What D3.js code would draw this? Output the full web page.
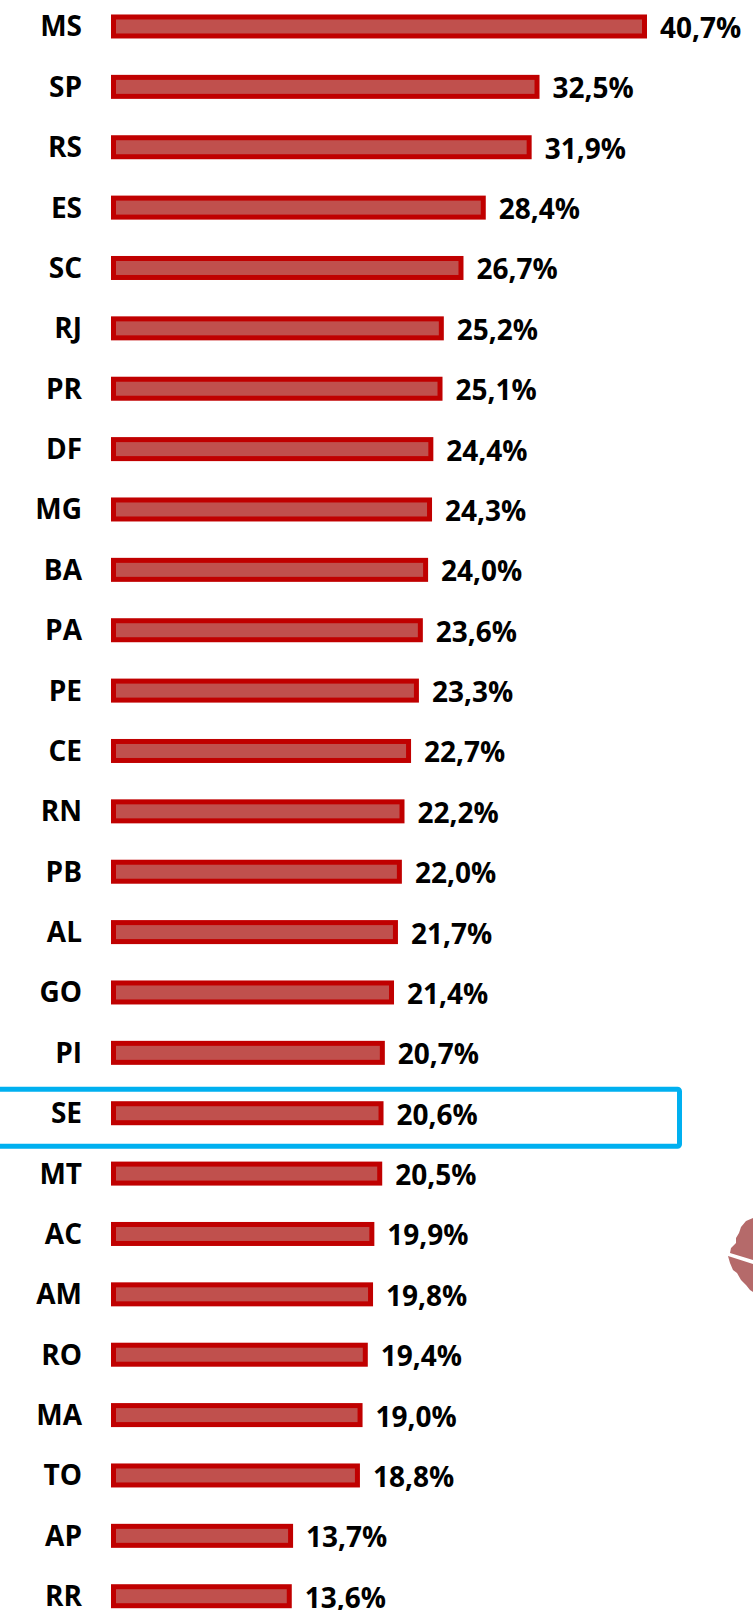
<!DOCTYPE html>
<html><head><meta charset="utf-8">
<script src="https://cdn.jsdelivr.net/npm/d3@7"></script>
<style>html,body{margin:0;padding:0;background:#fff;overflow:hidden}svg{display:block}text{font-family:"Open Sans",Lato,sans-serif;font-weight:700;fill:#000}</style>
</head><body><div id="c"></div>
<script>
const categories=["MS","SP","RS","ES","SC","RJ","PR","DF","MG","BA","PA","PE","CE","RN","PB","AL","GO","PI","SE","MT","AC","AM","RO","MA","TO","AP","RR"];
const values=[40.7,32.5,31.9,28.4,26.7,25.2,25.1,24.4,24.3,24.0,23.6,23.3,22.7,22.2,22.0,21.7,21.4,20.7,20.6,20.5,19.9,19.8,19.4,19.0,18.8,13.7,13.6];
const highlighted="SE";
const W=753,H=1610;
const svg=d3.select("#c").append("svg").attr("width",W).attr("height",H);
const x=d3.scaleLinear().domain([0,40.7]).range([111,644.5]);
const y=d3.scaleBand().domain(categories).range([-3.7,1626.4]).paddingInner(0.6).paddingOuter(0.3);
const fmt=v=>d3.format(".1f")(v).replace(".",",")+"%";
const bh=19;
const cy=d=>y(d)+y.bandwidth()/2;
const rows=categories.map((c,i)=>({c,v:values[i]}));
svg.selectAll("rect.bar").data(rows).join("rect").attr("class","bar")
 .attr("x",x(0)+2.5).attr("y",d=>cy(d.c)-bh/2)
 .attr("width",d=>x(d.v)-x(0)-2.5).attr("height",bh)
 .attr("fill","#C0504D").attr("stroke","#C00000").attr("stroke-width",5);
svg.selectAll("text.cat").data(rows).join("text").attr("class","cat")
 .attr("x",82).attr("y",d=>cy(d.c)-1).attr("text-anchor","end").attr("dominant-baseline","central")
 .attr("font-size",28).text(d=>d.c);
svg.selectAll("text.val").data(rows).join("text").attr("class","val")
 .attr("x",d=>x(d.v)+15.5).attr("y",d=>cy(d.c)+0.5).attr("dominant-baseline","central")
 .attr("font-size",28).text(d=>fmt(d.v));
const hy=cy(highlighted);
svg.append("rect").attr("x",-10).attr("y",hy-24).attr("width",689.5).attr("height",57).attr("rx",2)
 .attr("fill","none").attr("stroke","#00B0F0").attr("stroke-width",5);
const blobA=[[753,1218],[746,1221],[741,1227],[739,1233],[736,1238],[736,1243],[731,1248],[730,1253],[753,1260]];
const blobB=[[728,1256],[753,1264],[753,1292],[750,1290],[746,1285],[741,1280],[737,1273],[733,1270],[730,1263]];
svg.selectAll("path.blob").data([blobA,blobB]).join("path").attr("class","blob")
 .attr("d",d=>d3.line()(d)+"Z").attr("fill","#B56A6A");
</script></body></html>
